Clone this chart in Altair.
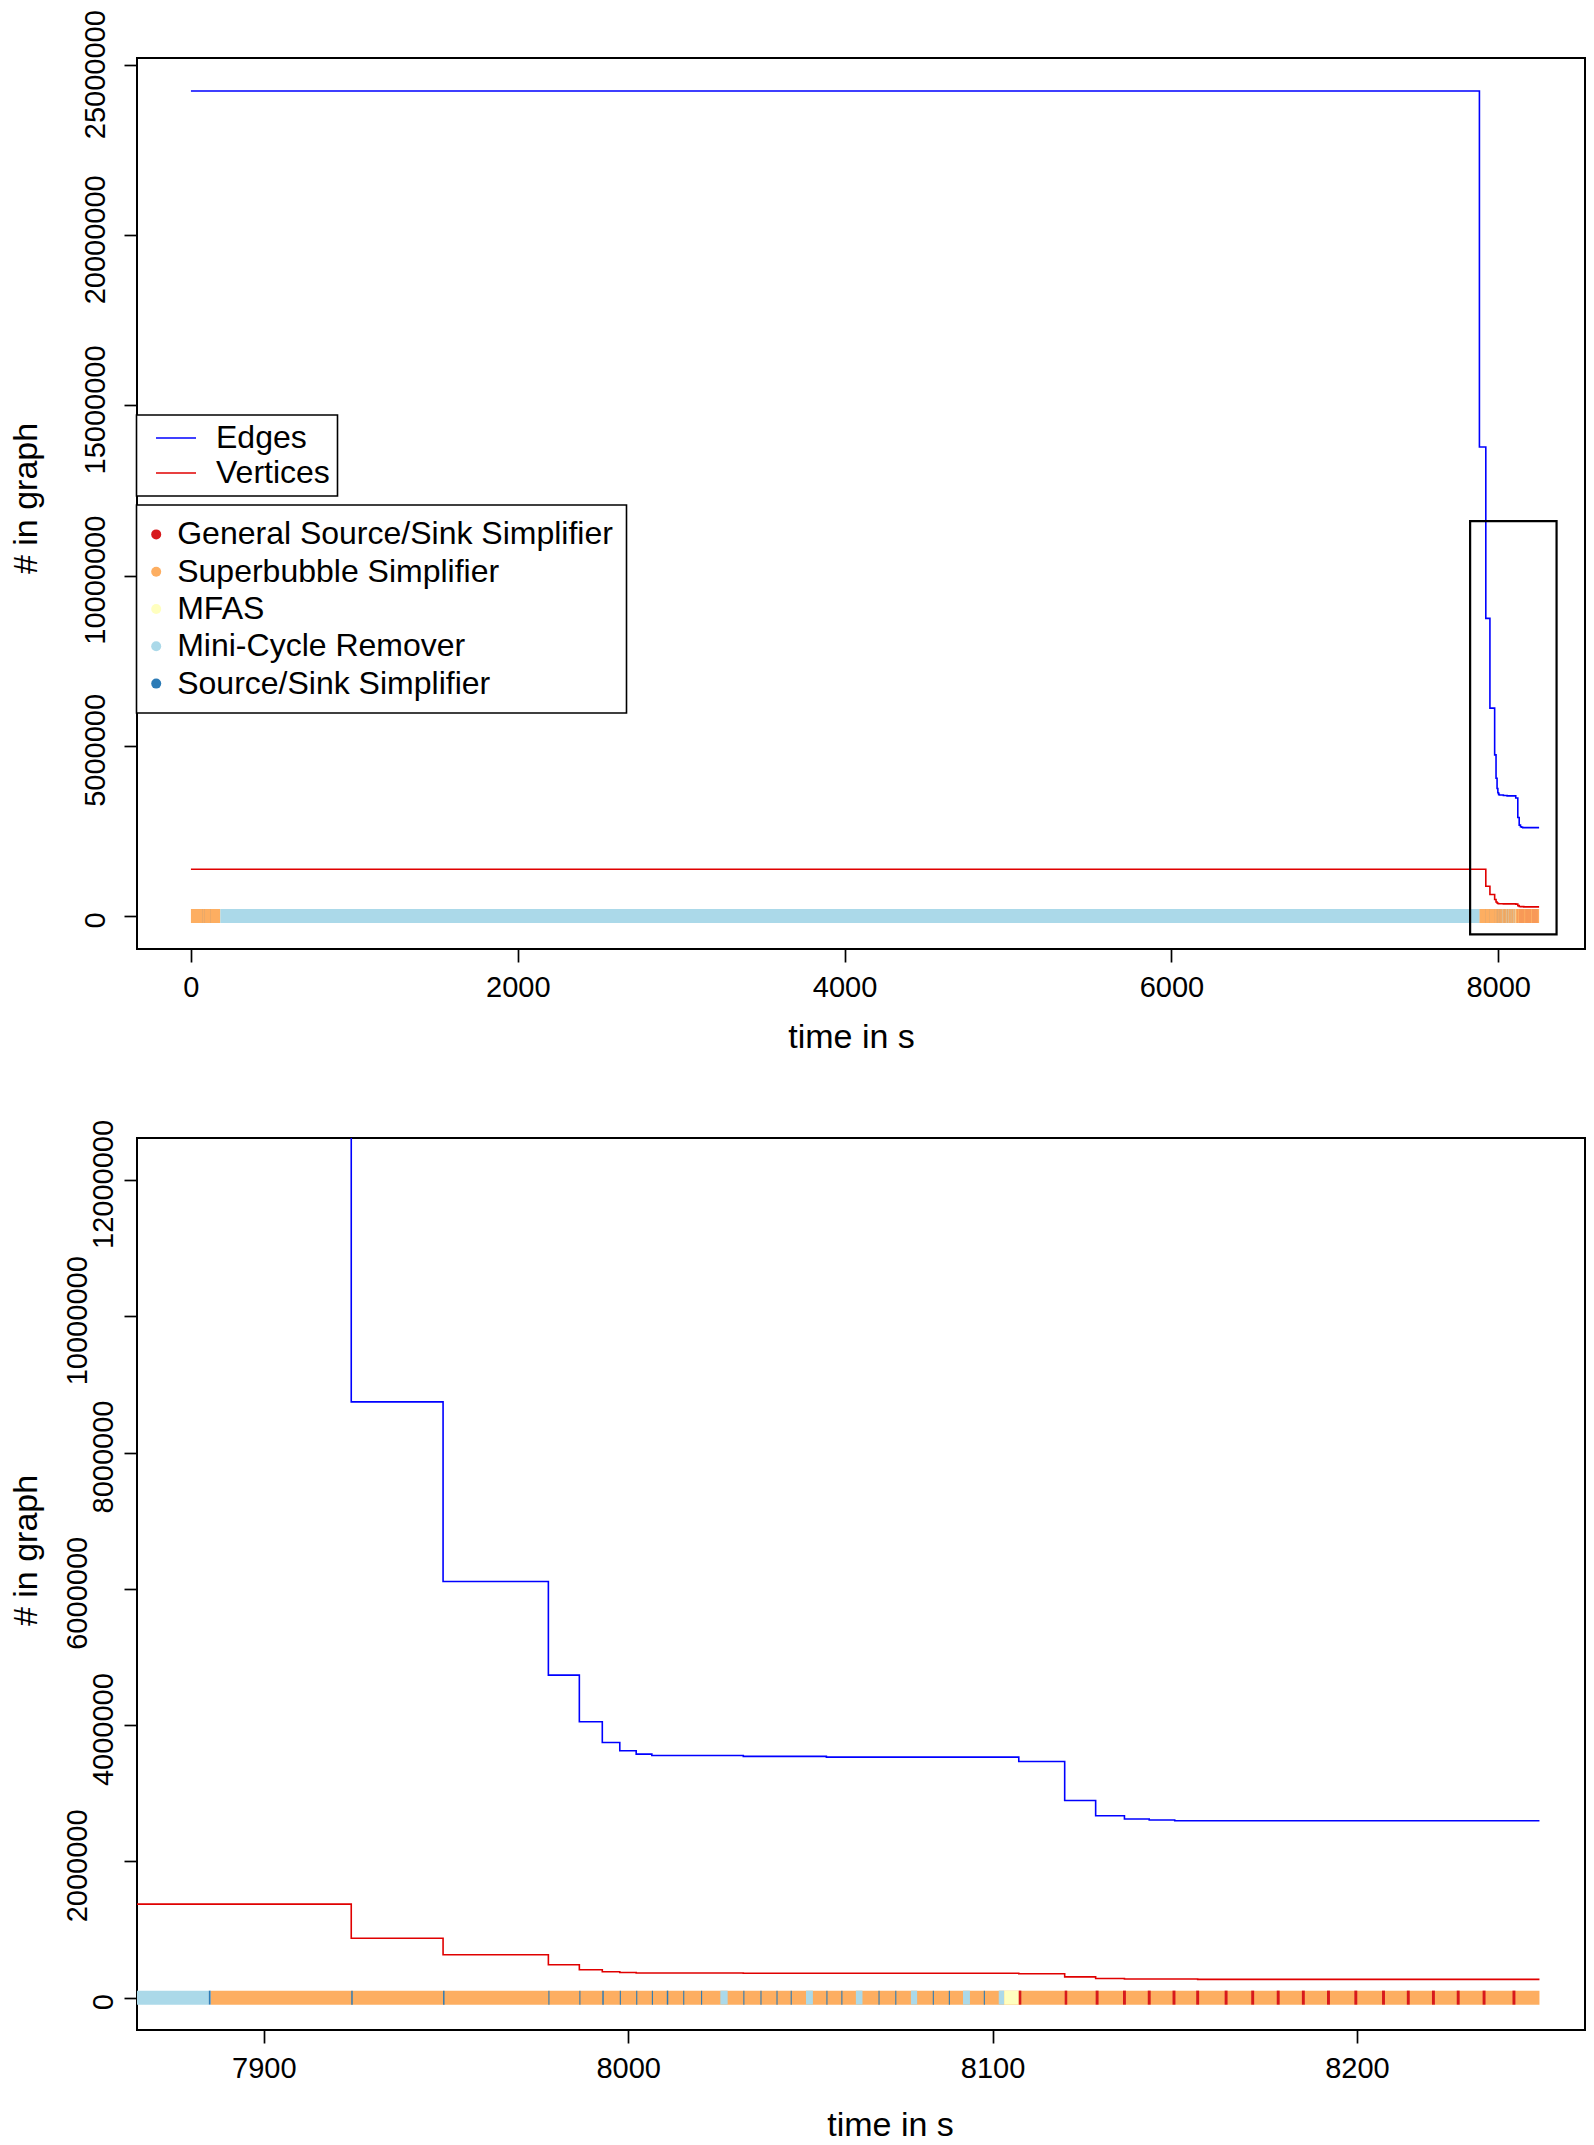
import altair as alt
import pandas as pd

FONT = "Liberation Sans"

# ---------------- data ----------------
TYPES = ["General Source/Sink Simplifier", "Superbubble Simplifier", "MFAS",
         "Mini-Cycle Remover", "Source/Sink Simplifier"]
TYPE_COLORS = ["#D7191C", "#FDAE61", "#FFFFBF", "#ABD9E9", "#2C7BB6"]
ABBR = {"GSS": TYPES[0], "SB": TYPES[1], "MFAS": TYPES[2], "MC": TYPES[3], "SS": TYPES[4]}

SERIES = ["Edges", "Vertices"]
SERIES_COLORS = ["#0000FF", "#E00000"]

edges_t = [0, 7884.9, 7924.0, 7949.2, 7978.1, 7986.6, 7992.9, 7997.7, 8002.2, 8006.5,
           8031.6, 8054.4, 8107.2, 8119.8, 8128.3, 8136.2, 8143.0, 8150.0, 8250.1]
edges_v = [24240000, 13780000, 8744000, 6107000, 4733000, 4048000, 3745000, 3623000,
           3574000, 3554000, 3540000, 3530000, 3466000, 2894000, 2669000, 2621000,
           2606000, 2596000, 2596000]

vert_t = [0, 7924.0, 7949.2, 7978.1, 7986.6, 7992.9, 7997.7, 8002.2, 8031.6, 8107.2,
          8119.8, 8128.3, 8136.2, 8156.3, 8250.1]
vert_v = [1373000, 872000, 630000, 483000, 410000, 380000, 368000, 361000, 357000,
          350000, 305000, 280000, 274000, 268000, 268000]

# long runs of one simplifier
run_start = [0, 180, 7885.4]
run_end = [180, 7884.9, 8250.1]
run_type = ["SB", "MC", "SB"]

# short runs drawn on top of the long ones
tick_start = [70, 82, 117, 7884.9, 7924.0, 7949.2, 7978.1, 7986.6, 7992.9, 7997.7,
              8002.2, 8006.5, 8010.6, 8015.1, 8020.0, 8025.3, 8031.6, 8036.3, 8040.7,
              8044.6, 8048.8, 8054.4, 8058.5, 8062.5, 8068.7, 8073.3, 8077.6, 8083.6,
              8088.0, 8091.9, 8097.6, 8101.7, 8103.2, 8107.2, 8119.8, 8128.3,
              8135.8, 8142.6, 8149.4, 8155.9, 8163.7, 8171.0, 8178.0, 8184.9, 8191.8,
              8199.3, 8206.9, 8213.7, 8220.6, 8227.4, 8234.5, 8242.7]
tick_len = [0.5, 0.5, 0.5, 0.5, 0.4, 0.4, 0.3, 0.3, 0.4, 0.3,
            0.3, 0.3, 0.4, 0.3, 0.3, 2.0, 0.3, 0.3, 0.3,
            0.3, 1.9, 0.3, 0.3, 1.8, 0.3, 0.3, 1.7, 0.3,
            0.3, 1.9, 0.3, 1.5, 4.0, 0.7, 0.7, 0.8,
            0.8, 0.8, 0.8, 0.8, 0.8, 0.8, 0.8, 0.8, 0.8,
            0.8, 0.8, 0.8, 0.8, 0.8, 0.8, 0.8]
tick_type = ["SS", "SS", "SS", "SS", "SS", "SS", "SS", "SS", "SS", "SS",
             "SS", "SS", "SS", "SS", "SS", "MC", "SS", "SS", "SS",
             "SS", "MC", "SS", "SS", "MC", "SS", "SS", "MC", "SS",
             "SS", "MC", "SS", "MC", "MFAS", "GSS", "GSS", "GSS",
             "GSS", "GSS", "GSS", "GSS", "GSS", "GSS", "GSS", "GSS", "GSS",
             "GSS", "GSS", "GSS", "GSS", "GSS", "GSS", "GSS"]

zoom_x = [7828, 8357]
zoom_y = [-540000, 11600000]

top_x_ticks = [0, 2000, 4000, 6000, 8000]
top_y_ticks = [0, 5000000, 10000000, 15000000, 20000000, 25000000]
bot_x_ticks = [7900, 8000, 8100, 8200]
bot_y_ticks = [0, 2000000, 4000000, 6000000, 8000000, 10000000, 12000000]

top_x_domain = [-330, 8531]
top_y_domain = [-970000, 25210000]
bot_x_domain = [7865.2, 8262.6]
bot_y_domain = [-475000, 12616000]

# ---------------- tables ----------------
strip = pd.DataFrame({
    "start": run_start + tick_start,
    "end": run_end + [s + l for s, l in zip(tick_start, tick_len)],
    "type": [ABBR[t] for t in run_type + tick_type],
})
lines = pd.DataFrame({
    "series": ["Edges"] * len(edges_t) + ["Vertices"] * len(vert_t),
    "t": edges_t + vert_t,
    "value": edges_v + vert_v,
})
box = pd.DataFrame({"x0": [zoom_x[0]], "x1": [zoom_x[1]], "y0": [zoom_y[0]], "y1": [zoom_y[1]]})

W = 1448


def panel(xdom, ydom, xticks, yticks, h, ylabpad, ylaboff, ytitle_x, ytitle_y,
          xtitle_x, xtitle_y, legends, with_box):
    xs = alt.Scale(domain=xdom, nice=False, zero=False, padding=0)
    ys = alt.Scale(domain=ydom, nice=False, zero=False, padding=0)
    xaxis = alt.Axis(values=xticks, format="d", title="time in s", labelPadding=25,
                     labelBaseline="middle", titleX=xtitle_x, titleY=xtitle_y,
                     titleAlign="center", titleBaseline="alphabetic")
    yaxis = alt.Axis(values=yticks, format="d", title="# in graph", labelAngle=270,
                     labelAlign="center", labelBaseline="middle", labelPadding=ylabpad,
                     labelOffset=ylaboff, labelOverlap=False, titleAngle=270,
                     titleAlign="center", titleBaseline="middle",
                     titleX=ytitle_x, titleY=ytitle_y)
    if legends:
        fill_leg = alt.Legend(title=None, orient="none", legendX=-0.5, legendY=447,
                              symbolType="circle", symbolSize=100, symbolStrokeWidth=0,
                              labelFontSize=32, labelLimit=1000, padding=13.4,
                              rowPadding=5.3, symbolOffset=-9.7, labelOffset=5,
                              strokeColor="black", fillColor="white")
        stroke_leg = alt.Legend(title=None, orient="none", legendX=-0.5, legendY=357,
                                symbolType="M-2,0H2", symbolSize=400, symbolStrokeWidth=1.6,
                                labelFontSize=32, labelLimit=1000, padding=7, rowPadding=3,
                                symbolOffset=16.5, labelOffset=24,
                                strokeColor="black", fillColor="white")
    else:
        fill_leg = None
        stroke_leg = None

    fill_enc = alt.Fill("type:N", scale=alt.Scale(domain=TYPES, range=TYPE_COLORS),
                        legend=fill_leg)
    stroke_enc = alt.Stroke("series:N", scale=alt.Scale(domain=SERIES, range=SERIES_COLORS),
                            legend=stroke_leg)

    bars = alt.Chart(strip).mark_bar(size=14, orient="horizontal", clip=True).encode(
        x=alt.X("start:Q", scale=xs, axis=xaxis),
        x2="end:Q",
        y=alt.Y(datum=0, type="quantitative", scale=ys, axis=yaxis),
        fill=fill_enc,
    )
    lns = alt.Chart(lines).mark_line(interpolate="step-after", strokeWidth=1.6,
                                     clip=True).encode(
        x=alt.X("t:Q", scale=xs, axis=xaxis),
        y=alt.Y("value:Q", scale=ys, axis=yaxis),
        stroke=stroke_enc,
    )
    layers = [bars, lns]
    if with_box:
        rect = alt.Chart(box).mark_rect(stroke="black", strokeWidth=2.2, fillOpacity=0,
                                         clip=True).encode(
            x=alt.X("x0:Q", scale=xs, axis=xaxis), x2="x1:Q",
            y=alt.Y("y0:Q", scale=ys, axis=yaxis), y2="y1:Q",
        )
        layers.append(rect)
    return alt.layer(*layers).properties(width=W, height=h)


top = panel(top_x_domain, top_y_domain, top_x_ticks, top_y_ticks, 891, 28.5,
            {"condition": {"test": "datum.value == 25000000", "value": 9}, "value": 4},
            -111, 440, 714, 98, True, True)
bottom = panel(bot_x_domain, bot_y_domain, bot_x_ticks, bot_y_ticks, 892,
               {"condition": {"test": "datum.value % 4000000 == 0", "value": 20.5}, "value": 47},
               4, -111, 412, 753, 105, False, False)

chart = (
    alt.vconcat(top, bottom, spacing=189, bounds="flush")
    .resolve_scale(x="independent", y="independent", stroke="independent", fill="independent")
    .properties(padding=0)
    .configure(font=FONT)
    .configure_view(stroke="black", strokeWidth=2)
    .configure_axis(domain=False, grid=False, tickColor="black", tickWidth=1.7, tickSize=13,
                    labelColor="black", labelFont=FONT, labelFontSize=29, labelLimit=400,
                    titleFont=FONT, titleFontSize=34, titleFontWeight="normal",
                    titleColor="black")
    .configure_legend(strokeWidth=1.6, labelFont=FONT, labelColor="black")
)

chart.save("out.html", embed_options={"renderer": "svg", "actions": False})
